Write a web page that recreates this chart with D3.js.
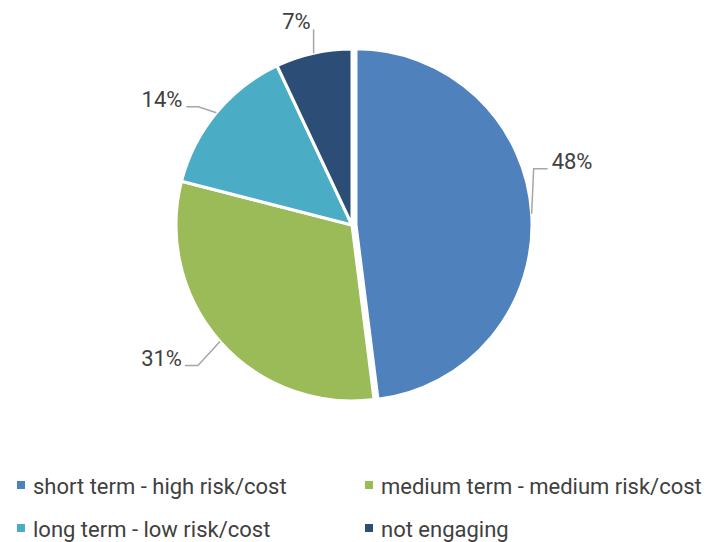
<!DOCTYPE html>
<html>
<head>
<meta charset="utf-8">
<script src="https://cdn.jsdelivr.net/npm/d3@7/dist/d3.min.js"></script>
<style>
  html, body { margin: 0; padding: 0; background: #fff; }
  svg { display: block; font-family: Roboto, "Open Sans", sans-serif; }
</style>
</head>
<body>
<svg id="chart" width="705" height="542"></svg>
<script>
// Engagement strategy shares
const categories = [
  "short term - high risk/cost",
  "medium term - medium risk/cost",
  "long term - low risk/cost",
  "not engaging"
];
const values = [48, 31, 14, 7];
const colors = ["#4F81BD", "#9BBB59", "#4BACC6", "#2C4D75"];

const svg = d3.select("#chart");
const cx = 352, cy = 225, r = 176;

const pie = d3.pie().sort(null).value(d => d)(values);
const arc = d3.arc().innerRadius(0).outerRadius(r);
const edge = d3.arc().innerRadius(r).outerRadius(r);

const g = svg.append("g").attr("transform", `translate(${cx},${cy})`);

// the largest slice is pulled slightly out of the pie
const explode = i => (i === 0 ? 4 : 0);
const shift = (d, i) => {
  const a = (d.startAngle + d.endAngle) / 2;
  return [Math.sin(a) * explode(i), -Math.cos(a) * explode(i)];
};

g.selectAll("path.slice")
  .data(pie)
  .join("path")
  .attr("class", "slice")
  .attr("d", arc)
  .attr("transform", (d, i) => `translate(${shift(d, i)})`)
  .attr("fill", (d, i) => colors[i])
  .attr("stroke", "#fff")
  .attr("stroke-width", 3)
  .attr("stroke-linejoin", "round");

// leader line routing for each label: bend point offset, then horizontal run
const leaders = [
  { bend: p => [p[0] + 2, p[1] - 45], run: 14, anchor: "start", tx: 4, ty: 0 },
  { bend: p => [p[0] - 22, p[1] + 24], run: -13, anchor: "end", tx: -3, ty: 1 },
  { bend: p => [p[0] - 18, p[1] - 6], run: -12, anchor: "end", tx: -4, ty: 0 },
  { bend: p => [p[0], p[1] - 24], run: 0, anchor: "end", tx: -3, ty: 0 }
];

pie.forEach((d, i) => {
  const s = shift(d, i);
  const c = edge.centroid(d);
  const p = [c[0] + s[0], c[1] + s[1]];
  const L = leaders[i];
  const b = L.bend(p);
  const e = [b[0] + L.run, b[1]];
  g.append("path")
    .attr("d", d3.line()([p, b, e]))
    .attr("fill", "none")
    .attr("stroke", "#A6A6A6")
    .attr("stroke-width", 1.5);
  g.append("text")
    .attr("x", e[0] + L.tx)
    .attr("y", e[1] + L.ty)
    .attr("text-anchor", L.anchor)
    .attr("font-size", 22)
    .attr("fill", "#404040")
    .text(values[i] + "%");
});

// legend, two columns by two rows
const legend = svg.append("g");
const cols = [17, 365], rows = [486, 529];
categories.forEach((name, i) => {
  const x = cols[i % 2], y = rows[Math.floor(i / 2)];
  legend.append("rect")
    .attr("x", x).attr("y", y - 5)
    .attr("width", 8).attr("height", 8)
    .attr("fill", colors[i]);
  legend.append("text")
    .attr("x", x + 16).attr("y", y)
    .attr("dy", "0.35em")
    .attr("font-size", 22)
    .attr("fill", "#404040")
    .text(name);
});
</script>
</body>
</html>
